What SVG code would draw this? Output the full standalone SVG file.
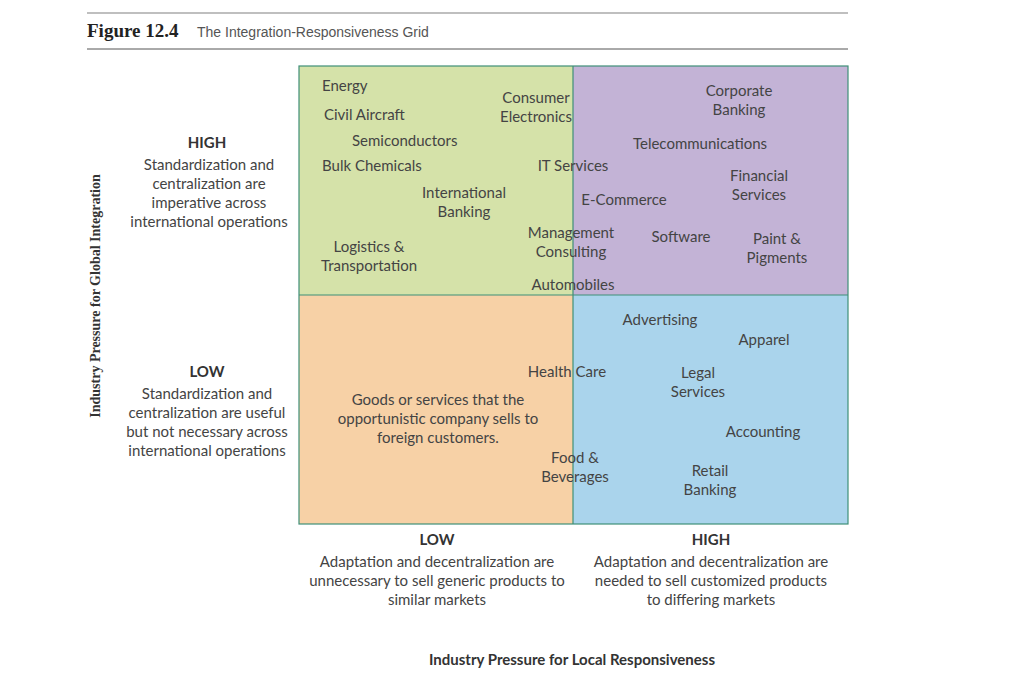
<svg xmlns="http://www.w3.org/2000/svg" width="1024" height="687" viewBox="0 0 1024 687">
<style>
.t{font-family:"Lato","Liberation Sans",sans-serif;font-size:15px;fill:#444}
.m{text-anchor:middle}
.b{font-weight:bold;fill:#333}
.s{font-family:"Liberation Serif",serif;font-size:14px;font-weight:bold;fill:#333}
.q{stroke:#3f8f78;stroke-width:1.2}
</style>
<rect width="1024" height="687" fill="#fff"/>
<line x1="87" y1="13" x2="848" y2="13" stroke="#aaa" stroke-width="1.5"/>
<line x1="87" y1="49" x2="848" y2="49" stroke="#555" stroke-width="1"/>
<text x="87" y="37" font-family="Liberation Serif,serif" font-weight="bold" font-size="19" fill="#222">Figure 12.4</text>
<text x="197" y="37" font-family="Liberation Sans,sans-serif" font-size="14" fill="#555">The Integration-Responsiveness Grid</text>
<g id="quadrants">
<rect id="q-tl" x="299" y="66" width="274" height="229" fill="#d5e2a9"/>
<rect id="q-tr" x="573" y="66" width="275" height="229" fill="#c3b3d6"/>
<rect id="q-bl" x="299" y="295" width="274" height="229" fill="#f7d1a6"/>
<rect id="q-br" x="573" y="295" width="275" height="229" fill="#aad4ec"/>
<rect x="299" y="66" width="549" height="458" fill="none" class="q"/>
<line x1="573" y1="66" x2="573" y2="524" class="q"/>
<line x1="299" y1="295" x2="848" y2="295" class="q"/>
</g>
<g id="labels" class="t">
<text x="322" y="91">Energy</text>
<text x="324" y="120">Civil Aircraft</text>
<text x="352" y="146">Semiconductors</text>
<text x="322" y="171">Bulk Chemicals</text>
<text x="536" y="103" class="t m">Consumer</text>
<text x="536" y="122" class="t m">Electronics</text>
<text x="573" y="171" class="t m">IT Services</text>
<text x="464" y="198" class="t m">International</text>
<text x="464" y="217" class="t m">Banking</text>
<text x="369" y="252" class="t m">Logistics &amp;</text>
<text x="369" y="271" class="t m">Transportation</text>
<text x="571" y="238" class="t m">Management</text>
<text x="571" y="257" class="t m">Consulting</text>
<text x="573" y="290" class="t m">Automobiles</text>
<text x="739" y="96" class="t m">Corporate</text>
<text x="739" y="115" class="t m">Banking</text>
<text x="700" y="149" class="t m">Telecommunications</text>
<text x="759" y="181" class="t m">Financial</text>
<text x="759" y="200" class="t m">Services</text>
<text x="624" y="205" class="t m">E-Commerce</text>
<text x="681" y="242" class="t m">Software</text>
<text x="777" y="244" class="t m">Paint &amp;</text>
<text x="777" y="263" class="t m">Pigments</text>
<text x="660" y="325" class="t m">Advertising</text>
<text x="764" y="345" class="t m">Apparel</text>
<text x="567" y="377" class="t m">Health Care</text>
<text x="698" y="378" class="t m">Legal</text>
<text x="698" y="397" class="t m">Services</text>
<text x="438" y="405" class="t m">Goods or services that the</text>
<text x="438" y="424" class="t m">opportunistic company sells to</text>
<text x="438" y="443" class="t m">foreign customers.</text>
<text x="763" y="437" class="t m">Accounting</text>
<text x="575" y="463" class="t m">Food &amp;</text>
<text x="575" y="482" class="t m">Beverages</text>
<text x="710" y="476" class="t m">Retail</text>
<text x="710" y="495" class="t m">Banking</text>
</g>
<g id="axis-y" class="t">
<text x="207" y="148" class="t m b">HIGH</text>
<text x="209" y="170" class="t m">Standardization and</text>
<text x="209" y="189" class="t m">centralization are</text>
<text x="209" y="208" class="t m">imperative across</text>
<text x="209" y="227" class="t m">international operations</text>
<text x="207" y="377" class="t m b">LOW</text>
<text x="207" y="399" class="t m">Standardization and</text>
<text x="207" y="418" class="t m">centralization are useful</text>
<text x="207" y="437" class="t m">but not necessary across</text>
<text x="207" y="456" class="t m">international operations</text>
<text transform="translate(100,296) rotate(-90)" class="s m">Industry Pressure for Global Integration</text>
</g>
<g id="axis-x" class="t">
<text x="437" y="545" class="t m b">LOW</text>
<text x="437" y="567" class="t m">Adaptation and decentralization are</text>
<text x="437" y="586" class="t m">unnecessary to sell generic products to</text>
<text x="437" y="605" class="t m">similar markets</text>
<text x="711" y="545" class="t m b">HIGH</text>
<text x="711" y="567" class="t m">Adaptation and decentralization are</text>
<text x="711" y="586" class="t m">needed to sell customized products</text>
<text x="711" y="605" class="t m">to differing markets</text>
<text x="572" y="665" class="t m b" font-size="14">Industry Pressure for Local Responsiveness</text>
</g>
</svg>
